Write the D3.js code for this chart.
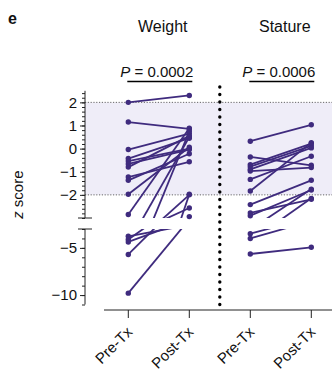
<!DOCTYPE html>
<html>
<head>
<meta charset="utf-8">
<script src="https://cdn.jsdelivr.net/npm/d3@7"></script>
<style>
body { margin: 0; background: #fff; }
text { font-family: 'Liberation Sans', Arial, sans-serif; fill: #111; }
</style>
</head>
<body>
<svg width="332" height="374"></svg>
<script>
const groups = ['Weight', 'Stature']
const timepoints = ['Pre-Tx', 'Post-Tx']
const pValues = ['0.0002', '0.0006']
// paired z scores, one entry per patient (null = no value)
const weightPre = [2.0, 1.15, -0.04, -0.43, -0.54, -0.66, -0.8, -1.23, -1.37, -1.97, -2.85, -3.77, -4.12, -4.37, -5.7, -9.8, null]
const weightPost = [2.3, 0.85, 0.65, 0.45, 0.0, -0.04, 0.55, -0.57, -0.22, 0.06, 0.88, -2.57, 0.5, -2.0, 0.75, -1.97, -2.94]
const staturePre = [0.32, -0.36, -0.69, -0.78, -0.9, -0.97, -1.33, -1.83, -2.42, -2.78, -2.9, -3.5, -4.0, -5.65]
const staturePost = [1.03, -0.72, 0.22, 0.12, 0.03, -0.82, -0.33, 0.26, -1.37, -2.19, -1.79, -1.75, -2.15, -4.94]
const upperTicks = [2, 1, 0, -1, -2]
const lowerTicks = [-5, -10]
const normalBand = [-2, 2]

let data = [
    { name: groups[0], pre: weightPre, post: weightPost, p: pValues[0] },
    { name: groups[1], pre: staturePre, post: staturePost, p: pValues[1] }
]

let purple = '#3f2b7e',
    band = '#efedf8'

let svg = d3.select('svg')

let x = d3.scaleLinear().domain([0, 3]).range([128.3, 311.3])
let yUp = d3.scaleLinear().domain([-3, 2.5]).range([218, 90.8])
let yLo = d3.scaleLinear().domain([-11, -3]).range([304.5, 229])
let panels = [
    { y: yUp, lo: -3, hi: 2.5, id: 'up' },
    { y: yLo, lo: -11, hi: -3, id: 'lo' }
]
let axisX = 85, right = 332

// clip areas for each panel
let defs = svg.append('defs')
panels.forEach(p => {
    defs.append('clipPath').attr('id', 'clip-' + p.id)
        .append('rect')
        .attr('x', axisX).attr('width', right - axisX)
        .attr('y', p.y(p.hi)).attr('height', p.y(p.lo) - p.y(p.hi))
})

// normal range band
svg.append('rect')
    .attr('x', axisX).attr('width', right - axisX)
    .attr('y', yUp(normalBand[1])).attr('height', yUp(normalBand[0]) - yUp(normalBand[1]))
    .attr('fill', band)
svg.selectAll('line.ref')
    .data(normalBand)
    .enter()
    .append('line')
    .attr('class', 'ref')
    .attr('x1', axisX).attr('x2', right)
    .attr('y1', d => yUp(d)).attr('y2', d => yUp(d))
    .attr('stroke', '#666')
    .attr('stroke-width', 1)
    .attr('stroke-dasharray', '1.2 1.6')

// y axes (broken)
let upAxis = svg.append('g').attr('transform', 'translate(' + axisX + ',0)')
upAxis.call(d3.axisLeft(yUp).tickValues(d3.range(-3, 2.55, 0.2)).tickSize(3).tickFormat(''))
upAxis.call(g => g.select('.domain').remove())
upAxis.append('g').call(d3.axisLeft(yUp).tickValues(upperTicks).tickSize(5).tickPadding(3)
    .tickFormat(d => d < 0 ? '\u2212' + Math.abs(d) : d))
upAxis.append('line').attr('y1', yUp(2.5)).attr('y2', yUp(-3)).attr('stroke', '#222')
upAxis.append('line').attr('x1', -7).attr('x2', 7).attr('y1', yUp(-3)).attr('y2', yUp(-3)).attr('stroke', '#222')

let loAxis = svg.append('g').attr('transform', 'translate(' + axisX + ',0)')
loAxis.call(d3.axisLeft(yLo).tickValues(d3.range(-11, -2.5, 1)).tickSize(3).tickFormat(''))
loAxis.call(g => g.select('.domain').remove())
loAxis.append('g').call(d3.axisLeft(yLo).tickValues(lowerTicks).tickSize(5).tickPadding(3)
    .tickFormat(d => '\u2212' + Math.abs(d)))
loAxis.append('line').attr('y1', yLo(-3)).attr('y2', yLo(-11)).attr('stroke', '#222')
loAxis.append('line').attr('x1', -7).attr('x2', 7).attr('y1', yLo(-3)).attr('y2', yLo(-3)).attr('stroke', '#222')

svg.selectAll('.tick text').attr('font-size', 15).attr('fill', '#111')
svg.selectAll('.tick line').attr('stroke', '#222')
svg.selectAll('.domain').remove()

svg.append('text')
    .attr('transform', 'translate(23,' + ((yUp(2.5) + yLo(-11)) / 2 - 3) + ') rotate(-90)')
    .attr('text-anchor', 'middle')
    .attr('font-size', 15)
    .html('<tspan font-style="italic">z</tspan> score')

// x axis
let xAxis = svg.append('g').attr('transform', 'translate(0,310)')
xAxis.append('line').attr('x1', 104).attr('x2', right).attr('stroke', '#222')
xAxis.selectAll('line.tk')
    .data(d3.range(4))
    .enter()
    .append('line')
    .attr('class', 'tk')
    .attr('x1', d => x(d)).attr('x2', d => x(d))
    .attr('y2', 8)
    .attr('stroke', '#222')
xAxis.selectAll('text')
    .data(d3.range(4))
    .enter()
    .append('text')
    .text(d => timepoints[d % 2])
    .attr('text-anchor', 'end')
    .attr('font-size', 15)
    .attr('transform', d => 'translate(' + (x(d) + 5) + ',23) rotate(-45)')

// separator between groups
svg.append('line')
    .attr('x1', (x(1) + x(2)) / 2).attr('x2', (x(1) + x(2)) / 2)
    .attr('y1', 87).attr('y2', 305)
    .attr('stroke', '#000')
    .attr('stroke-width', 3.4)
    .attr('stroke-linecap', 'round')
    .attr('stroke-dasharray', '0 7.5')

// paired lines and points
data.forEach((grp, gi) => {
    let pairs = grp.pre.map((v, i) => ({ pre: v, post: grp.post[i] }))
    let x0 = x(gi * 2), x1 = x(gi * 2 + 1)

    panels.forEach(p => {
        let g = svg.append('g')
        g.append('g').attr('clip-path', 'url(#clip-' + p.id + ')')
            .selectAll('line')
            .data(pairs.filter(d => d.pre != null && d.post != null))
            .enter()
            .append('line')
            .attr('x1', x0).attr('x2', x1)
            .attr('y1', d => p.y(d.pre)).attr('y2', d => p.y(d.post))
            .attr('stroke', purple)
            .attr('stroke-width', 1.8)

        let pts = []
        pairs.forEach(d => {
            if (d.pre != null && d.pre >= p.lo && d.pre <= p.hi) pts.push([x0, d.pre])
            if (d.post != null && d.post >= p.lo && d.post <= p.hi) pts.push([x1, d.post])
        })
        g.selectAll('circle')
            .data(pts)
            .enter()
            .append('circle')
            .attr('cx', d => d[0])
            .attr('cy', d => p.y(d[1]))
            .attr('r', 2.7)
            .attr('fill', purple)
    })

    // group title and P value
    let mid = (x0 + x1) / 2
    svg.append('text')
        .text(grp.name)
        .attr('x', mid + 4)
        .attr('y', 32)
        .attr('text-anchor', 'middle')
        .attr('font-size', 16)
    svg.append('text')
        .attr('x', x1 + 4)
        .attr('y', 77)
        .attr('text-anchor', 'end')
        .attr('font-size', 15)
        .html('<tspan font-style="italic">P</tspan> = ' + grp.p)
    svg.append('line')
        .attr('x1', x0 - 1).attr('x2', x1 + 3)
        .attr('y1', 81.5).attr('y2', 81.5)
        .attr('stroke', '#000')
        .attr('stroke-width', 1.5)
})

svg.append('text')
    .text('e')
    .attr('x', 8)
    .attr('y', 24)
    .attr('font-size', 16)
    .attr('font-weight', 'bold')
</script>
</body>
</html>
